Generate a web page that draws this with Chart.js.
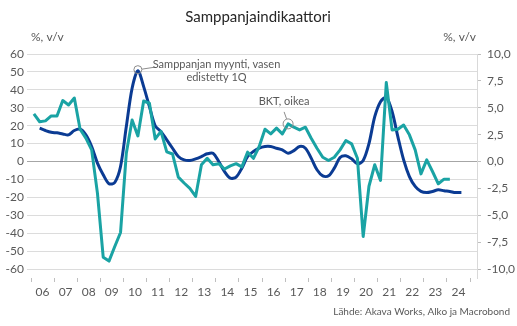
<!DOCTYPE html>
<html>
<head>
<meta charset="utf-8">
<script src="https://cdn.jsdelivr.net/npm/chart.js@4.4.1/dist/chart.umd.min.js"></script>
<style>
  html, body { margin: 0; padding: 0; background: #fff; }
</style>
</head>
<body>
<canvas id="chart" width="517" height="326"></canvas>
<script>
// Data: quarterly, y/y %
const yearLabels = ["06","07","08","09","10","11","12","13","14","15","16","17","18","19","20","21","22","23","24"];
const yearTicks  = [2006,2007,2008,2009,2010,2011,2012,2013,2014,2015,2016,2017,2018,2019,2020,2021,2022,2023,2024,2025];
const leftTicks  = [60,50,40,30,20,10,0,-10,-20,-30,-40,-50,-60];
const rightTicks = [10,7.5,5,2.5,0,-2.5,-5,-7.5,-10];

// Champagne sales (left axis, advanced 1Q), from 2006 Q2
const salesStart = [2006, 2];
const salesValues = [
  18.6, 17.3, 16.3,
  16.0, 15.4, 14.9, 17.3,
  18.0, 14.9, 8.4, -0.9,
  -7.4, -12.4, -11.7, -2.8,
  19.5, 40.9, 50.7, 41.8,
  30.6, 19.9, 16.7, 12.1,
  7.4, 2.8, 0.9, 0.6,
  1.5, 2.8, 4.3, 4.6,
  0.0, -5.6, -9.3, -8.7,
  -3.7, 2.8, 5.6, 7.5,
  8.4, 8.4, 7.4, 6.5,
  4.6, 6.1, 8.4, 7.4,
  1.9, -4.6, -8.0, -8.0,
  -3.7, 2.2, 3.2, 1.5,
  -1.3, 0.6, 10.0, 25.0,
  33.4, 35.8, 27.9, 13.9,
  0.9, -8.4, -13.9, -16.7,
  -17.3, -16.7, -15.8, -16.3,
  -16.7, -17.3, -17.3
];

// GDP (right axis), from 2006 Q1
const gdpStart = [2006, 1];
const gdpValues = [
  4.43, 3.7, 3.78, 4.24,
  4.24, 5.67, 5.26, 5.91,
  3.0, 2.17, 1.08, -2.94,
  -8.9, -9.26, -7.9, -6.6,
  0.77, 3.87, 2.38, 5.63,
  5.42, 2.1, 2.8, 0.9,
  0.7, -1.45, -2.0, -2.5,
  -3.25, -0.3, 0.3, -0.3,
  -0.2, -0.7, -0.4, -0.2,
  -0.5, 0.87, 0.3, 1.4,
  3.0, 2.57, 3.1, 2.57,
  3.5, 3.19, 2.94, 3.19,
  2.17, 1.24, 0.4, 0.1,
  0.4, 1.08, 1.95, 1.64,
  0.3, -6.97, -2.3, -0.3,
  -1.76, 7.34, 2.94, 3.0,
  3.4, 2.48, 1.08, -1.15,
  0.15, -0.93, -2.07, -1.64,
  -1.64
];

const BLUE = "#0b3b93";
const TEAL = "#1aa3a4";
const GREY = "#595959";
const FONT = "Lato";

// quarter index -> x position at middle of quarter
function toPoints(start, values) {
  return values.map((v, i) => {
    const q = start[1] - 1 + i;
    return { x: start[0] + (q + 0.5) / 4, y: v };
  });
}

const salesPts = toPoints(salesStart, salesValues);
const gdpPts = toPoints(gdpStart, gdpValues);

const fmtComma = v => v.toFixed(1).replace(".", ",");

/* ---- extra texts & callouts ---- */
const textPlugin = {
  id: "texts",
  afterDraw(chart) {
    const c = chart.ctx;
    const sx = chart.scales.x, sy = chart.scales.y, sy2 = chart.scales.y2;
    c.save();
    c.textBaseline = "middle";

    c.fillStyle = "#262626";
    c.font = `15px ${FONT}`;
    c.textAlign = "center";
    c.fillText("Samppanjaindikaattori", 258, 17);

    c.fillStyle = GREY;
    c.font = `12px ${FONT}`;
    c.textAlign = "left";
    c.fillText("%, v/v", 31, 37);
    c.textAlign = "right";
    c.fillText("%, v/v", 476, 37);

    c.font = `10px ${FONT}`;
    c.fillText("Lähde: Akava Works, Alko ja Macrobond", 510, 312);

    // callout: champagne sales peak
    const pk = salesValues.indexOf(Math.max(...salesValues));
    const px = sx.getPixelForValue(salesPts[pk].x);
    const py = sy.getPixelForValue(salesPts[pk].y) - 1;
    c.strokeStyle = "#8c8c8c";
    c.lineWidth = 1;
    c.beginPath(); c.arc(px, py, 4, 0, Math.PI * 2); c.stroke();
    c.beginPath(); c.moveTo(px + 4, py - 0.5); c.lineTo(px + 17, py - 2.5); c.stroke();
    c.font = `11px ${FONT}`;
    c.textAlign = "center";
    c.fillText("Samppanjan myynti, vasen", 216.5, 64);
    c.fillText("edistetty 1Q", 216.5, 77);

    // callout: GDP
    const gi = 44; // 2017 Q1
    const gx = sx.getPixelForValue(gdpPts[gi].x);
    const gy = sy2.getPixelForValue(gdpPts[gi].y);
    c.beginPath(); c.arc(gx, gy, 5, 0, Math.PI * 2); c.stroke();
    c.beginPath(); c.moveTo(gx - 1.5, gy - 5); c.lineTo(gx - 4, gy - 12); c.stroke();
    c.fillText("BKT, oikea", gx - 4, 101);
    c.restore();
  }
};

new Chart(document.getElementById("chart"), {
  type: "line",
  data: {
    datasets: [
      { label: "BKT, oikea", data: gdpPts, yAxisID: "y2", borderColor: TEAL,
        borderWidth: 3, pointRadius: 0, tension: 0, borderJoinStyle: "round" },
      { label: "Samppanjan myynti, vasen", data: salesPts, yAxisID: "y", borderColor: BLUE,
        borderWidth: 3, pointRadius: 0, tension: 0.3, borderJoinStyle: "round" }
    ]
  },
  options: {
    responsive: false,
    animation: false,
    layout: { padding: { top: 54, left: 0, right: 0, bottom: 0 } },
    plugins: { legend: { display: false }, tooltip: { enabled: false } },
    scales: {
      x: {
        type: "linear", min: 2006, max: 2025.3,
        border: { display: false },
        grid: { drawOnChartArea: false, tickLength: 4, color: "#bfbfbf" },
        afterBuildTicks: s => { s.ticks = yearTicks.map(v => ({ value: v })); },
        afterFit: s => { s.height = 48; },
        ticks: {
          autoSkip: false, maxRotation: 0, labelOffset: 11.5, padding: 3,
          color: GREY, font: { family: FONT, size: 12 },
          callback: (v, i) => yearLabels[i] ?? ""
        }
      },
      y: {
        position: "left", min: -65, max: 60,
        border: { display: false },
        grid: { tickLength: 4, color: ctx => ctx.tick && ctx.tick.value === 0 ? "#a6a6a6" : "#dcdcdc" },
        afterBuildTicks: s => { s.ticks = leftTicks.map(v => ({ value: v })); },
        afterFit: s => { s.width = 31; },
        ticks: { padding: 3, color: GREY, font: { family: FONT, size: 12 } }
      },
      y2: {
        position: "right", min: -65 / 6, max: 10,
        border: { display: true, color: "#d9d9d9" },
        grid: { drawOnChartArea: false, tickLength: 4, color: "#bfbfbf" },
        afterBuildTicks: s => { s.ticks = rightTicks.map(v => ({ value: v })); },
        afterFit: s => { s.width = 40; },
        ticks: { padding: 6, color: GREY, font: { family: FONT, size: 12 }, callback: v => fmtComma(v) }
      }
    }
  },
  plugins: [textPlugin]
});
</script>
</body>
</html>
